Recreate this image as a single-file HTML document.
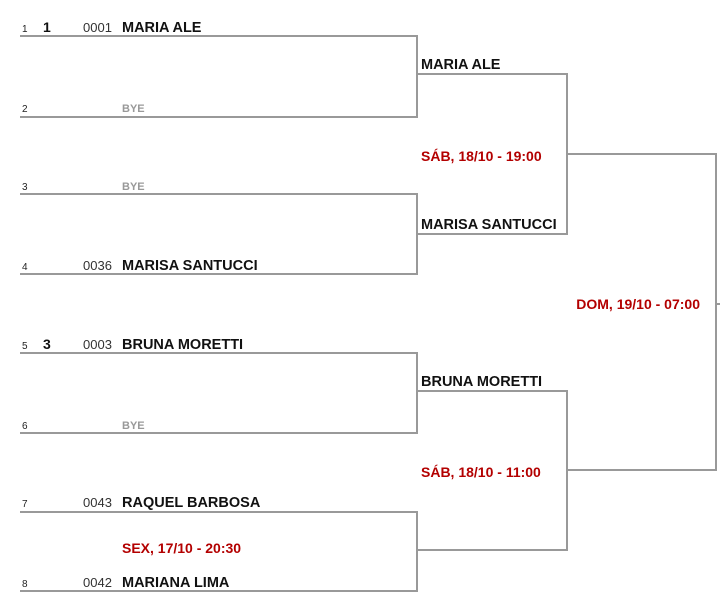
<!DOCTYPE html>
<html><head><meta charset="utf-8"><style>
html,body{margin:0;padding:0;background:#fff;width:720px;height:601px;overflow:hidden}
svg{display:block;font-family:"Liberation Sans",Arial,sans-serif}
.n{font-size:14.5px;font-weight:bold;fill:#111}
.r{font-size:10px;fill:#222}
.c{font-size:13px;fill:#333}
.s{font-size:14px;font-weight:bold;fill:#111}
.b{font-size:11px;font-weight:bold;fill:#999}
.d{font-size:14px;font-weight:bold;fill:#b30000}
</style></head><body>
<svg width="720" height="601" viewBox="0 0 720 601">
<g stroke="#999" stroke-width="2" fill="none">
<polyline points="20,36 417,36 417,117 20,117"/>
<polyline points="20,194 417,194 417,274 20,274"/>
<polyline points="20,353 417,353 417,433 20,433"/>
<polyline points="20,512 417,512 417,591 20,591"/>
<polyline points="417,74 567,74 567,234 417,234"/>
<polyline points="417,391 567,391 567,550 417,550"/>
<polyline points="567,154 716,154 716,470 567,470"/>
<line x1="716" y1="304" x2="720" y2="304"/>
</g>
<text class="r" x="22" y="32">1</text><text class="s" x="43" y="32">1</text><text class="c" x="83" y="32">0001</text><text class="n" x="122" y="32">MARIA ALE</text>
<text class="r" x="22" y="112">2</text><text class="b" x="122" y="112">BYE</text>
<text class="r" x="22" y="190">3</text><text class="b" x="122" y="190">BYE</text>
<text class="r" x="22" y="270">4</text><text class="c" x="83" y="270">0036</text><text class="n" x="122" y="270">MARISA SANTUCCI</text>
<text class="r" x="22" y="349">5</text><text class="s" x="43" y="349">3</text><text class="c" x="83" y="349">0003</text><text class="n" x="122" y="349">BRUNA MORETTI</text>
<text class="r" x="22" y="429">6</text><text class="b" x="122" y="429">BYE</text>
<text class="r" x="22" y="507">7</text><text class="c" x="83" y="507">0043</text><text class="n" x="122" y="507">RAQUEL BARBOSA</text>
<text class="d" x="122" y="553">SEX, 17/10 - 20:30</text>
<text class="r" x="22" y="587">8</text><text class="c" x="83" y="587">0042</text><text class="n" x="122" y="587">MARIANA LIMA</text>
<text class="n" x="421" y="69">MARIA ALE</text>
<text class="d" x="421" y="161">SÁB, 18/10 - 19:00</text>
<text class="n" x="421" y="229">MARISA SANTUCCI</text>
<text class="n" x="421" y="386">BRUNA MORETTI</text>
<text class="d" x="421" y="477">SÁB, 18/10 - 11:00</text>
<text class="d" x="700" y="309" text-anchor="end">DOM, 19/10 - 07:00</text>
</svg>
</body></html>
